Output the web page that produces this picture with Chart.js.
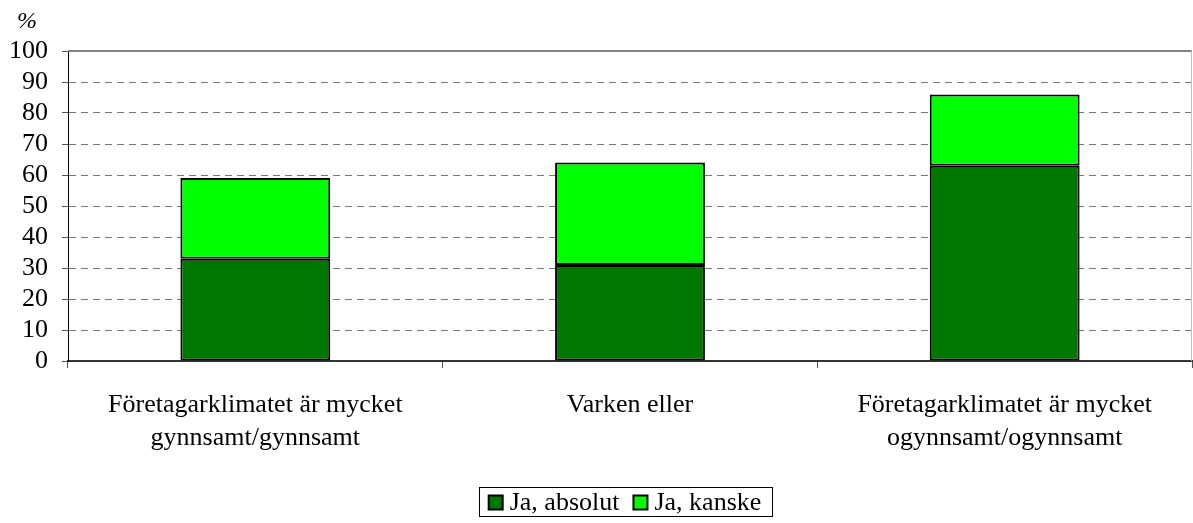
<!DOCTYPE html>
<html>
<head>
<meta charset="utf-8">
<script src="https://cdn.jsdelivr.net/npm/chart.js@4.4.0/dist/chart.umd.min.js"></script>
<style>
    html, body { margin: 0; padding: 0; background: #fff; }
    #wrap { width: 1193px; height: 523px; position: relative; }
</style>
</head>
<body>
<div id="wrap"><canvas id="chart" width="1193" height="523"></canvas></div>
<script>
// data
const categories = [
    ['Företagarklimatet är mycket', 'gynnsamt/gynnsamt'],
    'Varken eller',
    ['Företagarklimatet är mycket', 'ogynnsamt/ogynnsamt']
];
const jaAbsolut = [33, 31, 63];
const jaKanske = [26, 33, 23];
const yTicks = [0, 10, 20, 30, 40, 50, 60, 70, 80, 90, 100];

const FONT = '"Liberation Serif", "Times New Roman", serif';
const FS = 26;

// frame on top/right + "%" label + boxed legend
const extras = {
    id: 'extras',
    afterDraw(chart) {
        const ctx = chart.ctx;
        const a = chart.chartArea;
        ctx.save();
        ctx.strokeStyle = '#808080';
        ctx.lineWidth = 2;
        ctx.beginPath();
        ctx.moveTo(a.left, a.top);
        ctx.lineTo(a.right, a.top);
        ctx.stroke();
        ctx.lineWidth = 1;
        ctx.strokeStyle = '#c0c0c0';
        ctx.beginPath();
        ctx.moveTo(a.right - 0.5, a.top);
        ctx.lineTo(a.right - 0.5, a.bottom);
        ctx.stroke();

        ctx.fillStyle = '#000';
        ctx.font = 'italic 24px ' + FONT;
        ctx.textBaseline = 'alphabetic';
        ctx.textAlign = 'left';
        ctx.fillText('%', 17, 28);

        // legend
        ctx.font = FS + 'px ' + FONT;
        const sets = chart.data.datasets;
        const box = 14, gap = 7, itemGap = 14, pad = 10;
        let total = 0;
        const widths = sets.map(d => ctx.measureText(d.label).width);
        widths.forEach(w => total += box + gap + w);
        total += itemGap * (sets.length - 1);
        const cx = 625;
        const top = 487, h = 29;
        const left = cx - total / 2 - pad;
        ctx.strokeStyle = '#000';
        ctx.lineWidth = 1;
        ctx.strokeRect(Math.round(left) + 0.5, top + 0.5, Math.round(total + pad * 2), h);
        let x = cx - total / 2;
        const midY = top + h / 2 + 1;
        sets.forEach((d, i) => {
            ctx.fillStyle = d.backgroundColor;
            ctx.fillRect(x, midY - box / 2, box, box);
            ctx.lineWidth = 2;
            ctx.strokeRect(x, midY - box / 2, box, box);
            ctx.fillStyle = '#000';
            ctx.textBaseline = 'middle';
            ctx.fillText(d.label, x + box + gap, midY + 1);
            x += box + gap + widths[i] + itemGap;
        });
        ctx.restore();
    }
};

new Chart(document.getElementById('chart'), {
    type: 'bar',
    data: {
        labels: categories,
        datasets: [
            {
                label: 'Ja, absolut',
                data: jaAbsolut,
                backgroundColor: '#007800',
                borderColor: '#000',
                borderWidth: 2,
                borderSkipped: false
            },
            {
                label: 'Ja, kanske',
                data: jaKanske,
                backgroundColor: '#00ff00',
                borderColor: '#000',
                borderWidth: 2,
                borderSkipped: false
            }
        ]
    },
    options: {
        responsive: false,
        animation: false,
        layout: { padding: { top: 51, left: 0, right: 1, bottom: 72 } },
        plugins: {
            legend: { display: false },
            tooltip: { enabled: false }
        },
        datasets: {
            bar: { categoryPercentage: 1, barPercentage: 0.4 }
        },
        scales: {
            x: {
                stacked: true,
                grid: {
                    offset: true,
                    drawOnChartArea: false,
                    tickLength: 7,
                    tickColor: '#555'
                },
                border: { color: '#333', width: 2 },
                ticks: {
                    color: '#000',
                    font: { family: FONT, size: FS, lineHeight: 1.27 },
                    padding: 21,
                    maxRotation: 0,
                    autoSkip: false
                },
                afterFit(scale) { scale.height = 90; }
            },
            y: {
                stacked: true,
                min: 0,
                max: 100,
                afterBuildTicks(scale) { scale.ticks = yTicks.map(v => ({ value: v })); },
                grid: {
                    color: '#777',
                    lineWidth: 1,
                    tickLength: 6,
                    tickColor: '#555'
                },
                border: { color: '#000', width: 1, dash: [7, 5] },
                ticks: {
                    color: '#000',
                    font: { family: FONT, size: FS },
                    padding: 14,
                    autoSkip: false
                },
                afterFit(scale) { scale.width = 68; }
            }
        }
    },
    plugins: [extras]
});
</script>
</body>
</html>
